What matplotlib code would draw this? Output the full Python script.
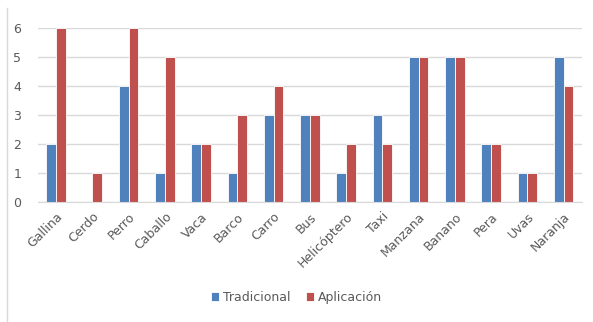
import matplotlib
matplotlib.use('Agg')
import matplotlib.pyplot as plt
import numpy as np

categories = ['Gallina', 'Cerdo', 'Perro', 'Caballo', 'Vaca', 'Barco', 'Carro', 'Bus',
              'Helicóptero', 'Taxi', 'Manzana', 'Banano', 'Pera', 'Uvas', 'Naranja']
tradicional = [2, 0, 4, 1, 2, 1, 3, 3, 1, 3, 5, 5, 2, 1, 5]
aplicacion = [6, 1, 6, 5, 2, 3, 4, 3, 2, 2, 5, 5, 2, 1, 4]

blue = '#4F81BD'
red = '#C0504D'
text_col = '#595959'

fig = plt.figure(figsize=(5.93, 3.22), dpi=100)
ax = fig.add_axes([0.064, 0.373, 0.917, 0.54])

x = np.arange(len(categories))
w = 0.27
ax.bar(x - w / 2, tradicional, w, color=blue, edgecolor='white', linewidth=0.6, label='Tradicional')
ax.bar(x + w / 2, aplicacion, w, color=red, edgecolor='white', linewidth=0.6, label='Aplicación')

ax.set_xlim(-0.5, len(categories) - 0.5)
ax.set_ylim(0, 6)
ax.set_yticks(range(7))
ax.yaxis.grid(True, color='#D9D9D9', linewidth=1)
ax.set_axisbelow(True)
for s in ['top', 'right', 'left']:
    ax.spines[s].set_visible(False)
ax.spines['bottom'].set_color('#D9D9D9')
ax.tick_params(axis='both', length=0, colors=text_col, labelsize=9)
ax.tick_params(axis='y', pad=12)
ax.tick_params(axis='x', pad=6)
ax.set_xticks(x)
ax.set_xticklabels(categories, rotation=45, ha='right', rotation_mode='anchor')

fig.legend(loc='center', bbox_to_anchor=(0.5, 0.077), ncol=2, frameon=False,
           fontsize=9, labelcolor=text_col, handlelength=0.7, handleheight=0.7,
           handletextpad=0.3, columnspacing=1.2)

fig.add_artist(plt.Line2D([0.012, 0.012], [0.0, 0.975], color='#D9D9D9', linewidth=1))

fig.savefig('out.png', dpi=100)
